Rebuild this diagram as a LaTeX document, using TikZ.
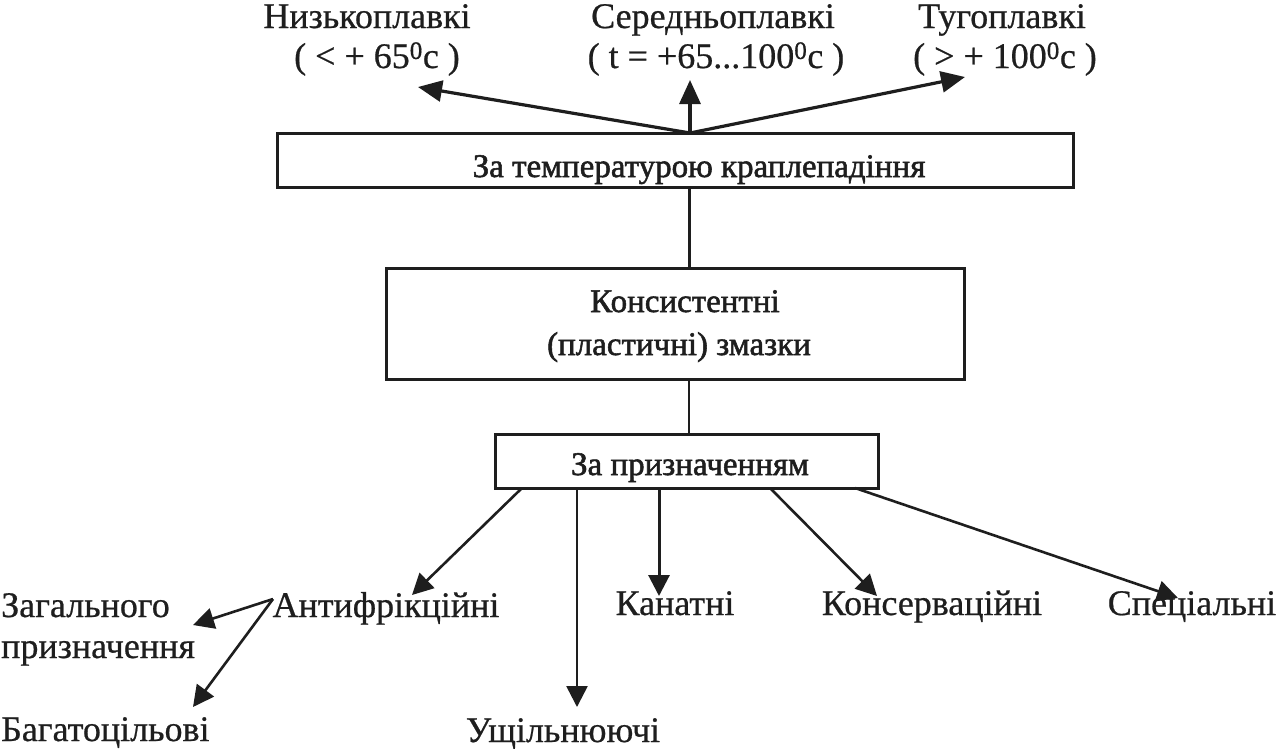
\documentclass[tikz,border=0pt]{standalone}
\usepackage{fontspec}
\setmainfont{Liberation Serif}
\newfontfamily\lblfont[FakeBold=0.6]{Liberation Serif}
\newfontfamily\boxfont[FakeBold=1.6]{Liberation Serif}
\usetikzlibrary{arrows.meta}
\definecolor{ink}{RGB}{30,30,30}
\begin{document}
\begin{tikzpicture}[x=1pt,y=-1pt,
  lbl/.style={anchor=base,inner sep=0pt,text=ink,font=\lblfont\fontsize{36}{42}\selectfont},
  lbll/.style={lbl,anchor=base west},
  boxtxt/.style={anchor=base,inner sep=0pt,text=ink,font=\boxfont\fontsize{33}{40}\selectfont},
  boxn/.style={draw=ink,line width=3pt,inner sep=0pt},
  conn/.style={draw=ink,line width=2.6pt},
  arr/.style={conn,-{Triangle[length=21pt,width=21pt]}},
  arrb/.style={draw=ink,line width=3.2pt,-{Triangle[length=24pt,width=21pt]}}]
\useasboundingbox (0,0) rectangle (1279,748);
% boxes
\node[boxn,minimum width=796pt,minimum height=54pt] (b1) at (675,160) {};
\node[boxtxt] (b1t) at (699,177) {За температурою краплепадіння};
\node[boxn,minimum width=578pt,minimum height=111pt] (b2) at (675,323.5) {};
\node[boxtxt] (b2t1) at (685,312) {Консистентні};
\node[boxtxt] (b2t2) at (679,355) {(пластичні) змазки};
\node[boxn,minimum width=383pt,minimum height=54pt] (b3) at (686.5,461) {};
\node[boxtxt] (b3t) at (690,475) {За призначенням};
% top labels
\node[lbl] (n1) at (367,28) {Низькоплавкі};
\node[lbl] (n1b) at (377,68) {( < + 65\textsuperscript{0}c )};
\node[lbl] (n2) at (713,28) {Середньоплавкі};
\node[lbl] (n2b) at (716,68) {( t = +65...100\textsuperscript{0}c )};
\node[lbl] (n3) at (1002,28) {Тугоплавкі};
\node[lbl] (n3b) at (1005,68) {( > + 100\textsuperscript{0}c )};
% bottom labels
\node[lbl] (a1) at (386,617) {Антифрікційні};
\node[lbl] (a2) at (675,615) {Канатні};
\node[lbl] (a3) at (932,615) {Консерваційні};
\node[lbl] (a4) at (1192,615) {Спеціальні};
\node[lbl] (a5) at (563,742) {Ущільнюючі};
\node[lbll] (g1) at (1,617) {Загального};
\node[lbll] (g2) at (1,658) {призначення};
\node[lbll] (g3) at (1,741) {Багатоцільові};
% connector end points
\coordinate (apex) at (690,133);
\coordinate (t1) at (418,87);
\coordinate (t2) at (690,80);
\coordinate (t3) at (965,77);
\coordinate (s1) at (522,488);
\coordinate (s2) at (577,488);
\coordinate (s3) at (659,488);
\coordinate (s4) at (770,488);
\coordinate (s5) at (855,488);
\coordinate (e1) at (412,595);
\coordinate (e2) at (577,707);
\coordinate (e3) at (659,596);
\coordinate (e4) at (877,596);
\coordinate (e5) at (1178,598);
\coordinate (as) at (273,599);
\coordinate (ez) at (193,625);
\coordinate (eb) at (193,707);
% connectors
\draw[arrb] (apex) -- (t1);
\draw[arrb] (apex) -- (t2);
\draw[arrb] (apex) -- (t3);
\draw[conn,line width=3pt] (b1.south -| 689,0) -- (b2.north -| 689,0);
\draw[conn] (b2.south -| 689,0) -- (b3.north -| 689,0);
\draw[arr] (s1) -- (e1);
\draw[arr] (s2) -- (e2);
\draw[arr,line width=3pt] (s3) -- (e3);
\draw[arr] (s4) -- (e4);
\draw[arr] (s5) -- (e5);
\draw[arr] (as) -- (ez);
\draw[arr] (as) -- (eb);
\end{tikzpicture}
\end{document}
